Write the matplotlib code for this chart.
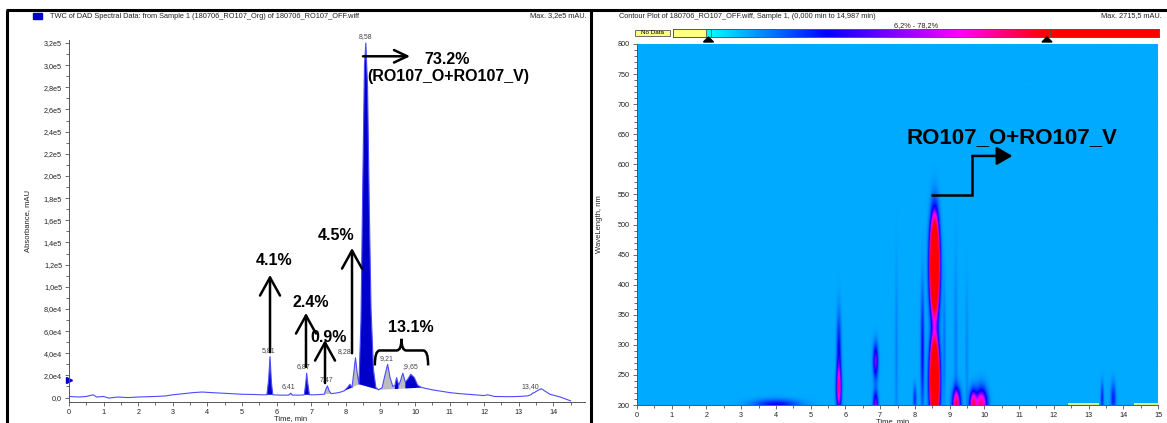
import numpy as np
import matplotlib.pyplot as plt
from matplotlib.colors import LinearSegmentedColormap
from matplotlib.patches import Rectangle, Polygon, PathPatch
from matplotlib.path import Path
from matplotlib.lines import Line2D
from matplotlib.ticker import MultipleLocator, FuncFormatter

plt.rcParams['font.family'] = ['Liberation Sans', 'DejaVu Sans']

W, H = 1167, 423

# TWC trace, time in min, absorbance in 1e4 mAU
trace_t = [0.00, 0.30, 0.50, 0.70, 0.80, 1.00, 1.15, 1.40, 1.70, 2.00, 2.50, 2.80,
           3.00, 3.30, 3.60, 3.85, 4.10, 4.40, 4.70, 5.00, 5.30, 5.60, 5.72, 5.77,
           5.81, 5.85, 5.89, 6.10, 6.35, 6.41, 6.46, 6.70, 6.80, 6.84, 6.87, 6.90,
           6.95, 7.10, 7.38, 7.43, 7.47, 7.52, 7.58, 7.80, 7.95, 8.05, 8.12, 8.18,
           8.24, 8.28, 8.33, 8.38, 8.44, 8.49, 8.54, 8.58, 8.63, 8.68, 8.73, 8.80,
           8.87, 8.95, 9.05, 9.13, 9.21, 9.28, 9.36, 9.42, 9.47, 9.53, 9.58, 9.65,
           9.72, 9.78, 9.88, 9.98, 10.08, 10.20, 10.50, 10.80, 11.00, 11.30, 11.60,
           12.00, 12.10, 12.30, 12.70, 13.00, 13.25, 13.35, 13.40, 13.45, 13.55,
           13.65, 13.75, 13.90, 14.20, 14.50]
trace_v = [0.10, 0.05, 0.10, 0.25, 0.05, 0.10, -0.05, 0.05, 0.00, 0.05, 0.10, 0.15,
           0.25, 0.35, 0.45, 0.50, 0.45, 0.40, 0.35, 0.30, 0.28, 0.25, 0.25, 1.60,
           3.70, 1.40, 0.25, 0.22, 0.22, 0.40, 0.22, 0.22, 0.25, 1.20, 2.20, 1.30,
           0.25, 0.25, 0.30, 0.80, 1.05, 0.60, 0.35, 0.45, 0.60, 0.90, 1.20, 0.90,
           2.50, 3.60, 2.20, 1.20, 7.00, 19.0, 30.0, 32.0, 28.0, 17.0, 8.00, 2.50,
           0.90, 0.70, 0.90, 2.00, 3.00, 1.80, 1.00, 1.10, 1.80, 1.10, 1.50, 2.20,
           1.40, 1.60, 2.10, 1.80, 1.10, 0.90, 0.70, 0.55, 0.45, 0.35, 0.28,
           0.18, 0.25, 0.10, 0.08, 0.10, 0.15, 0.25, 0.40, 0.45, 0.65,
           0.80, 0.60, 0.30, 0.05, -0.30]

# integrated peaks: window, baseline at both ends (1e4 mAU), colour class
pk_start = [5.72, 6.35, 6.80, 7.38, 7.95, 8.18, 8.38, 8.95, 9.42, 9.53, 9.72, 13.35]
pk_end = [5.89, 6.46, 6.95, 7.58, 8.18, 8.38, 8.95, 9.42, 9.53, 9.72, 10.20, 13.45]
pk_base0 = [0.25, 0.22, 0.25, 0.30, 0.60, 0.90, 1.20, 0.70, 0.77, 0.79, 0.82, 0.25]
pk_base1 = [0.25, 0.22, 0.25, 0.35, 0.90, 1.20, 0.70, 0.77, 0.79, 0.82, 0.90, 0.45]
pk_kind = ['b', 'g', 'b', 'g', 'b', 'g', 'b', 'g', 'b', 'g', 'b', 'g']

# retention time labels
lab_txt = ['5,81', '6,41', '6,87', '7,47', '8,28', '8,58', '9,21', ',9,65', '13,40']
lab_t = [5.81, 6.41, 6.87, 7.47, 8.28, 8.58, 9.21, 9.65, 13.40]
lab_v = [3.70, 0.40, 2.20, 1.05, 3.60, 32.0, 3.00, 2.20, 0.40]
lab_dx = [-1, -2, -2, -1, -8, 0, -1, 5, -2]

# area percentages
pct_txt = ['4.1%', '2.4%', '0.9%', '4.5%', '13.1%']
pct_t = [5.92, 7.00, 7.49, 7.72, 9.88]
pct_v = [12.4, 8.6, 5.4, 14.6, 6.3]
arrow_t = [5.81, 6.85, 7.40, 8.18]
arrow_lo = [4.1, 2.76, 1.31, 4.0]
arrow_hi = [11.07, 7.64, 5.2, 13.5]

# DAD contour spots: time, wavelength, widths, relative intensity
spot_t = [8.57, 8.57, 5.81, 5.81, 6.87, 6.87, 8.22, 8.00, 7.47, 9.20, 9.68,
          9.92, 9.18, 9.50, 4.00, 13.40, 13.72, 8.85]
spot_nm = [430, 240, 226, 285, 272, 200, 290, 210, 280, 200, 200,
           200, 300, 280, 200, 210, 210, 300]
spot_dt = [0.08, 0.08, 0.05, 0.045, 0.05, 0.05, 0.035, 0.035, 0.03, 0.08, 0.07,
           0.11, 0.035, 0.03, 0.45, 0.03, 0.05, 0.03]
spot_dnm = [47, 40, 25, 45, 20, 16, 70, 15, 100, 18, 16,
            18, 100, 80, 6, 18, 18, 70]
spot_amp = [3.0, 3.0, 0.6, 0.3, 0.45, 0.45, 0.3, 0.22, 0.08, 0.8, 0.75,
            0.75, 0.08, 0.07, 0.3, 0.25, 0.25, 0.1]
nodata_t0 = [12.4, 14.3]
nodata_t1 = [13.3, 15.0]

fig = plt.figure(figsize=(W / 100, H / 100), dpi=100)


def fx(px):
    return px / W


def fy(py):
    return 1 - py / H


# outer frame and panel divider
for xs, ys in [([6, W], [10, 10]), ([7, 7], [10, H]), ([591, 591], [10, H])]:
    fig.add_artist(Line2D([fx(x) for x in xs], [fy(y) for y in ys],
                          color='k', lw=2.2, solid_capstyle='butt'))

# ---------------- left: TWC chromatogram ----------------
ax = fig.add_axes([fx(69), fy(402), (584.5 - 69) / W, (402 - 40) / H])
t = np.array(trace_t)
v = np.array(trace_v) * 1e4
for s, e, b0, b1, k in zip(pk_start, pk_end, pk_base0, pk_base1, pk_kind):
    m = (t >= s) & (t <= e)
    xs = np.concatenate([[s], t[m], [e]])
    ys = np.concatenate([[b0 * 1e4], v[m], [b1 * 1e4]])
    ax.fill(xs, ys, color='#0000c8' if k == 'b' else '#bdbdbd', lw=0)
ax.plot(t, v, color='#4b4bff', lw=0.8)
ax.plot([0], [1.55e4], marker='>', color='#0000c8', ms=4, clip_on=False)

ax.set_xlim(0, 14.9)
ax.set_ylim(-4000, 3.227e5)
ax.xaxis.set_major_locator(MultipleLocator(1))
ax.xaxis.set_minor_locator(MultipleLocator(0.5))
ax.yaxis.set_major_locator(MultipleLocator(2e4))
ax.yaxis.set_minor_locator(MultipleLocator(1e4))


def yfmt(val, pos):
    if abs(val) < 1:
        return '0,0'
    if val < 0:
        return ''
    e = int(np.floor(np.log10(val)))
    return f'{val / 10 ** e:.1f}e{e}'.replace('.', ',')


ax.yaxis.set_major_formatter(FuncFormatter(yfmt))
for s in ['top', 'right']:
    ax.spines[s].set_visible(False)
for s in ['left', 'bottom']:
    ax.spines[s].set_color('#555555')
    ax.spines[s].set_linewidth(0.7)
ax.tick_params(which='both', labelsize=5.2, length=3, width=0.6, color='#555555',
               labelcolor='#222222', pad=2)
ax.tick_params(which='minor', length=2)
ax.set_ylabel('Absorbance, mAU', fontsize=5.5, color='#222222')
ax.yaxis.set_label_coords(-0.074, 0.5)
ax.set_xlabel('Time, min', fontsize=5.5, color='#222222')
ax.xaxis.set_label_coords(0.429, -0.035)

for txt, lt, lv, dx in zip(lab_txt, lab_t, lab_v, lab_dx):
    ax.annotate(txt, (lt, lv * 1e4), xytext=(dx, 2), textcoords='offset points',
                ha='center', va='bottom', fontsize=5, color='#444444')

bold = dict(fontsize=11.5, fontweight='bold', ha='center', va='center')
for txt, pt, pv in zip(pct_txt, pct_t, pct_v):
    ax.text(pt, pv * 1e4, txt, **bold)
for at, lo, hi in zip(arrow_t, arrow_lo, arrow_hi):
    ax.annotate('', xy=(at, hi * 1e4), xytext=(at, lo * 1e4),
                arrowprops=dict(arrowstyle='->,head_length=1.3,head_width=0.72',
                                lw=1.8, color='k', shrinkA=0, shrinkB=0))
ax.annotate('', xy=(9.86, 30.8e4), xytext=(8.50, 30.8e4),
            arrowprops=dict(arrowstyle='->,head_length=0.95,head_width=0.45',
                            lw=1.8, color='k', shrinkA=0, shrinkB=0))
ax.text(10.92, 30.5e4, '73.2%', **bold)
ax.text(10.95, 29.0e4, '(RO107_O+RO107_V)', **bold)

# curly brace over the 9-10 min group
bx0, bxm, bx1 = 8.84, 9.61, 10.38
by0, byb, byt = 2.9e4, 4.25e4, 5.3e4
verts = [(bx0, by0), (bx0, byb), (bx0 + 0.14, byb), (bxm - 0.14, byb),
         (bxm, byb), (bxm, byt),
         (bxm, byt), (bxm, byb), (bxm + 0.14, byb), (bx1 - 0.14, byb),
         (bx1, byb), (bx1, by0)]
codes = [Path.MOVETO, Path.CURVE3, Path.CURVE3, Path.LINETO, Path.CURVE3, Path.CURVE3,
         Path.MOVETO, Path.CURVE3, Path.CURVE3, Path.LINETO, Path.CURVE3, Path.CURVE3]
ax.add_patch(PathPatch(Path(verts, codes), fill=False, lw=1.8, color='k'))

# header
fig.add_artist(Rectangle((fx(33), fy(19)), 9 / W, 6 / H, color='#0000c8',
                         transform=fig.transFigure))
fig.text(fx(50), fy(16), 'TWC of DAD Spectral Data: from Sample 1 (180706_RO107_Org) '
         'of 180706_RO107_OFF.wiff', fontsize=5.3, va='center', color='#222222')
fig.text(fx(587), fy(16), 'Max. 3,2e5 mAU.', fontsize=5.3, va='center', ha='right',
         color='#222222')

# ---------------- right: contour plot ----------------
ax2 = fig.add_axes([fx(637), fy(405), (1158 - 637) / W, (405 - 44) / H])
tg = np.linspace(0, 15, 901)
wg = np.linspace(200, 800, 601)
T, WL = np.meshgrid(tg, wg)
Z = np.zeros_like(T)
for t0, w0, dt, dw, a in zip(spot_t, spot_nm, spot_dt, spot_dnm, spot_amp):
    Z += a * np.exp(-0.5 * ((T - t0) / dt) ** 2 - 0.5 * ((WL - w0) / dw) ** 2)
cmap = LinearSegmentedColormap.from_list(
    'dad', [(0.0, '#00aaff'), (0.3, '#0000ff'), (0.55, '#ff00ff'),
            (0.75, '#ff0066'), (1.0, '#ff0000')])
ax2.imshow(np.clip(Z, 0, 1), extent=[0, 15, 200, 800], origin='lower', aspect='auto',
           cmap=cmap, vmin=0, vmax=1, interpolation='bilinear')
for a, b in zip(nodata_t0, nodata_t1):
    ax2.plot([a, b], [201.5, 201.5], color='#ffff66', lw=1.2, solid_capstyle='butt')
ax2.set_xlim(0, 15)
ax2.set_ylim(200, 800)
ax2.xaxis.set_major_locator(MultipleLocator(1))
ax2.xaxis.set_minor_locator(MultipleLocator(0.5))
ax2.yaxis.set_major_locator(MultipleLocator(50))
ax2.yaxis.set_minor_locator(MultipleLocator(10))
for s in ['top', 'right']:
    ax2.spines[s].set_visible(False)
for s in ['left', 'bottom']:
    ax2.spines[s].set_color('#555555')
    ax2.spines[s].set_linewidth(0.7)
ax2.tick_params(which='both', labelsize=5.2, length=3, width=0.6, color='#555555',
                labelcolor='#222222', pad=2)
ax2.tick_params(which='minor', length=2)
ax2.set_ylabel('WaveLength, nm', fontsize=5.5, color='#222222')
ax2.yaxis.set_label_coords(-0.066, 0.5)
ax2.set_xlabel('Time, min', fontsize=5.5, color='#222222')
ax2.xaxis.set_label_coords(0.49, -0.035)

ax2.plot([8.47, 9.65, 9.65], [549, 549, 614], color='k', lw=1.8,
         solid_joinstyle='miter', solid_capstyle='butt')
ax2.annotate('', xy=(10.81, 614), xytext=(9.65, 614),
             arrowprops=dict(arrowstyle='-|>,head_length=0.95,head_width=0.55',
                             lw=1.8, color='k', shrinkA=0, shrinkB=0))
ax2.text(10.8, 645, 'RO107_O+RO107_V', fontsize=16, fontweight='bold',
         ha='center', va='center')

# colour scale strip
sx0, sx1 = 673, 1159
cax = fig.add_axes([fx(sx0), fy(37), (sx1 - sx0) / W, 8 / H])
strip = LinearSegmentedColormap.from_list(
    'strip', [(0.0, '#ffff80'), (0.069, '#ffff80'), (0.071, '#00ffff'),
              (0.315, '#0000ff'), (0.59, '#ff00ff'), (0.767, '#ff0000'), (1.0, '#ff0000')])
cax.imshow(np.linspace(0, 1, 600)[None, :], aspect='auto', cmap=strip,
           extent=[sx0, sx1, 0, 1])
cax.set_xlim(sx0, sx1)
cax.set_ylim(0, 1)
cax.set_xticks([])
cax.set_yticks([])
for s in cax.spines.values():
    s.set_color('#555555')
    s.set_linewidth(0.7)
for mx, c in [(708.5, '#00ffff'), (1047, '#ff0000')]:
    cax.add_patch(Rectangle((mx - 2.5, 0), 5, 1, facecolor=c, edgecolor='#555555', lw=0.6))
    fig.add_artist(Polygon([(fx(mx - 5), fy(42)), (fx(mx + 5), fy(42)), (fx(mx), fy(37))],
                           closed=True, color='k', transform=fig.transFigure))
fig.add_artist(Rectangle((fx(635), fy(36)), 35 / W, 6 / H, facecolor='#ffff80',
                         edgecolor='#555555', lw=0.6, transform=fig.transFigure))
fig.text(fx(652.5), fy(33), 'No Data', fontsize=4.5, ha='center', va='center')
fig.text(fx(916), fy(26), '6,2% - 78,2%', fontsize=5.3, ha='center', va='center',
         color='#222222')
fig.text(fx(619), fy(16), 'Contour Plot of 180706_RO107_OFF.wiff, Sample 1, '
         '(0,000 min to 14,987 min)', fontsize=5.3, va='center', color='#222222')
fig.text(fx(1162), fy(16), 'Max. 2715,5 mAU.', fontsize=5.3, va='center', ha='right',
         color='#222222')

fig.savefig('out.png', dpi=100)
